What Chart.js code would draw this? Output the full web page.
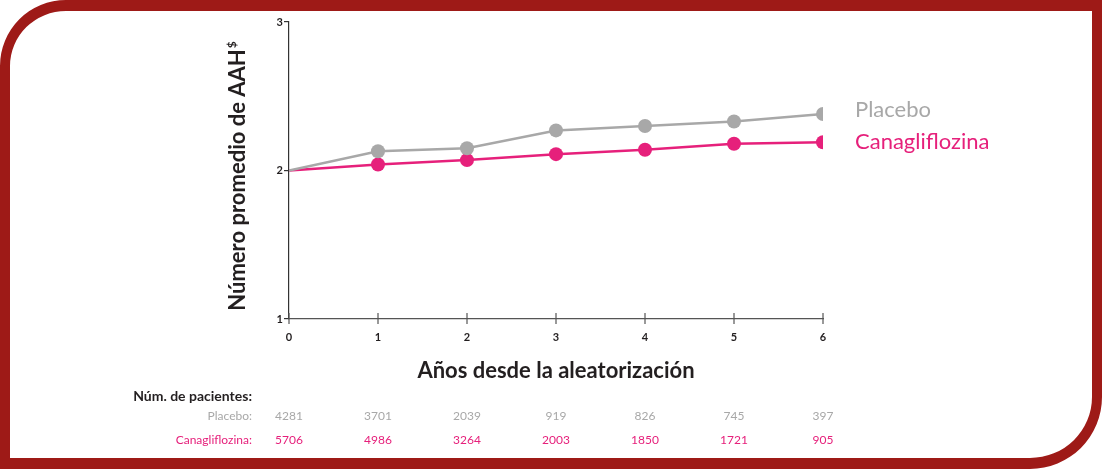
<!DOCTYPE html>
<html lang="es">
<head>
<meta charset="utf-8">
<title>Número promedio de AAH</title>
<script src="https://cdn.jsdelivr.net/npm/chart.js@4.4.1/dist/chart.umd.min.js"></script>
<style>
  html, body { margin: 0; padding: 0; background: #fff; }
  .frame {
    position: absolute; left: 0; top: 0; width: 1102px; height: 469px;
    box-sizing: border-box; border: 10px solid #9e1a17; border-top-width: 11px; border-bottom-width: 11px;
    border-radius: 66px 0 72px 0; background: #fff;
  }
  #wrap { position: absolute; left: 0; top: 0; width: 1102px; height: 469px; }
</style>
</head>
<body>
<div class="frame"></div>
<div id="wrap"><canvas id="aahChart" width="1102" height="469"></canvas></div>
<script>
const years = [0, 1, 2, 3, 4, 5, 6];
const placebo = [2.0, 2.13, 2.15, 2.27, 2.30, 2.33, 2.38];
const canagliflozina = [2.0, 2.04, 2.07, 2.11, 2.14, 2.18, 2.19];
const yTicks = [1, 2, 3];
const patientsPlacebo = [4281, 3701, 2039, 919, 826, 745, 397];
const patientsCana = [5706, 4986, 3264, 2003, 1850, 1721, 905];

const GRAY = '#a8a8a8';
const PINK = '#e6207b';
const DARK = '#231f20';
const FONT = 'Lato, "Open Sans", sans-serif';

function toPoints(values) {
  return years.map((x, i) => ({ x, y: values[i] }));
}

const annotations = {
  id: 'annotations',
  afterDraw(chart) {
    const { ctx, chartArea, scales } = chart;
    const xs = scales.x;
    const ys = scales.y;

    ctx.save();
    // x ticks crossing the axis
    ctx.strokeStyle = '#555';
    ctx.lineWidth = 1.2;
    years.forEach((yr) => {
      const px = xs.getPixelForValue(yr);
      ctx.beginPath();
      ctx.moveTo(px, chartArea.bottom - 6);
      ctx.lineTo(px, chartArea.bottom + 5);
      ctx.stroke();
    });

    // legend at line ends
    const lastP = ys.getPixelForValue(placebo[placebo.length - 1]);
    const lastC = ys.getPixelForValue(canagliflozina[canagliflozina.length - 1]);
    ctx.font = `22px ${FONT}`;
    ctx.textAlign = 'left';
    ctx.textBaseline = 'middle';
    ctx.fillStyle = GRAY;
    ctx.fillText('Placebo', chartArea.right + 32, lastP - 4);
    ctx.fillStyle = PINK;
    ctx.fillText('Canagliflozina', chartArea.right + 32, lastC);

    // x axis title
    ctx.fillStyle = DARK;
    ctx.font = `bold 22px ${FONT}`;
    ctx.textAlign = 'center';
    ctx.fillText('Años desde la aleatorización', (chartArea.left + chartArea.right) / 2, 371);

    // y axis title with superscript
    ctx.save();
    ctx.translate(238, (chartArea.top + chartArea.bottom) / 2 + 6);
    ctx.rotate(-Math.PI / 2);
    ctx.font = `bold 22px ${FONT}`;
    const main = 'Número promedio de AAH';
    const w = ctx.measureText(main).width;
    ctx.font = `bold 12px ${FONT}`;
    const ws = ctx.measureText('$').width;
    const startX = -(w + ws) / 2;
    ctx.textAlign = 'left';
    ctx.font = `bold 22px ${FONT}`;
    ctx.fillText(main, startX, 0);
    ctx.font = `bold 12px ${FONT}`;
    ctx.fillText('$', startX + w + 1, -6);
    ctx.restore();

    // patients table
    const labelX = chartArea.left - 37;
    ctx.textAlign = 'right';
    ctx.fillStyle = DARK;
    ctx.font = `bold 14px ${FONT}`;
    ctx.fillText('Núm. de pacientes:', labelX, 396);
    ctx.font = `12px ${FONT}`;
    ctx.fillStyle = GRAY;
    ctx.fillText('Placebo:', labelX, 416);
    ctx.fillStyle = PINK;
    ctx.fillText('Canagliflozina:', labelX, 440);

    ctx.textAlign = 'center';
    years.forEach((yr, i) => {
      const px = xs.getPixelForValue(yr);
      ctx.fillStyle = GRAY;
      ctx.fillText(String(patientsPlacebo[i]), px, 416);
      ctx.fillStyle = PINK;
      ctx.fillText(String(patientsCana[i]), px, 440);
    });
    ctx.restore();
  },
};

function renderChart() {
  const ctx = document.getElementById('aahChart');
  const radius = years.map((yr) => (yr === 0 ? 0 : 7));

  new Chart(ctx, {
    type: 'line',
    data: {
      datasets: [
        {
          label: 'Placebo',
          data: toPoints(placebo),
          borderColor: GRAY,
          backgroundColor: GRAY,
          borderWidth: 2.5,
          pointRadius: radius,
          pointBorderWidth: 0,
          tension: 0,
        },
        {
          label: 'Canagliflozina',
          data: toPoints(canagliflozina),
          borderColor: PINK,
          backgroundColor: PINK,
          borderWidth: 2.5,
          pointRadius: radius,
          pointBorderWidth: 0,
          tension: 0,
        },
      ],
    },
    options: {
      responsive: false,
      animation: false,
      devicePixelRatio: 1,
      layout: { padding: { left: 269, right: 279, top: 22, bottom: 120 } },
      plugins: { legend: { display: false }, tooltip: { enabled: false } },
      scales: {
        x: {
          type: 'linear',
          min: 0,
          max: 6,
          afterFit: (scale) => { scale.height = 30; },
          afterBuildTicks: (scale) => { scale.ticks = years.map((v) => ({ value: v })); },
          grid: { display: false, drawTicks: false },
          border: { color: '#555', width: 1.2 },
          ticks: { padding: 12, color: DARK, font: { family: FONT, size: 11, weight: 'bold' } },
        },
        y: {
          min: 1,
          max: 3,
          afterFit: (scale) => { scale.width = 20; },
          afterBuildTicks: (scale) => { scale.ticks = yTicks.map((v) => ({ value: v })); },
          grid: { drawOnChartArea: false, color: '#333', tickLength: 5, lineWidth: 1.2 },
          border: { color: '#333', width: 1.2 },
          ticks: { padding: 1, color: DARK, font: { family: FONT, size: 11, weight: 'bold' } },
        },
      },
    },
    plugins: [annotations],
  });
}

document.addEventListener('DOMContentLoaded', renderChart);
</script>
</body>
</html>
